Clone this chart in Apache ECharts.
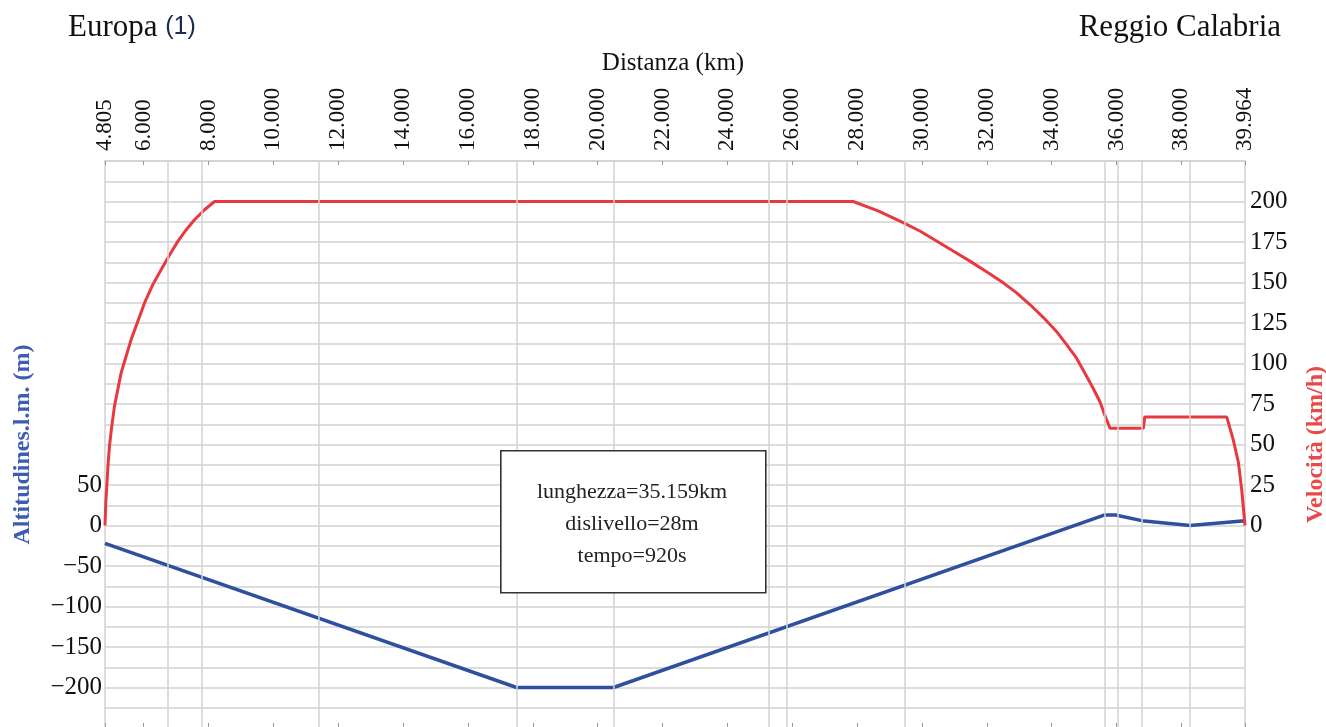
<!DOCTYPE html>
<html>
<head>
<meta charset="utf-8">
<script src="https://cdn.jsdelivr.net/npm/echarts@6/dist/echarts.min.js"></script>
<style>
html,body{margin:0;padding:0;background:#fff;}
#chart{width:1326px;height:727px;}
</style>
</head>
<body>
<div id="chart"></div>
<script>
// ---- data ----
const xTickValues = [4.805, 6, 8, 10, 12, 14, 16, 18, 20, 22, 24, 26, 28, 30, 32, 34, 36, 38, 39.964];
const vGridKm = [6.733, 7.78, 11.39, 17.50, 20.49, 25.28, 25.83, 29.47, 35.64, 36.04, 36.78, 38.27];

const velKm  = [4.805, 4.830, 4.873, 4.904, 4.944, 5.015, 5.098, 5.200, 5.305, 5.459, 5.613, 5.817,
                6.024, 6.280, 6.539, 6.795, 7.051, 7.310, 7.566, 7.875, 8.184,
                27.878, 28.649, 29.42, 29.936, 30.45, 30.963, 31.48, 31.994, 32.51, 32.920, 33.33,
                33.741, 34.15, 34.462, 34.77, 35.027, 35.28, 35.490, 35.64, 35.80,
                36.83, 36.87, 39.40, 39.60, 39.76, 39.86, 39.964];
const velKmh = [0, 14.4, 28.7, 39, 49.2, 61.5, 73.8, 84, 94.4, 104.6, 114.9, 126,
                137.4, 148.7, 158, 167, 175.4, 182.6, 188.7, 194.9, 200,
                200, 194.2, 187, 181.8, 175.6, 169.4, 163.2, 156.6, 149.8, 143.6, 136.4,
                128.5, 119.8, 111.6, 103.3, 94, 84.7, 76.4, 68.2, 60,
                60, 67, 67, 53, 39, 22.6, 0];

const altKm = [4.805, 17.50, 20.49, 35.64, 35.97, 36.78, 38.27, 39.964];
const altM  = [-22, -200, -200, 13, 13, 6, 0, 6];

const infoLines = ['lunghezza=35.159km', 'dislivello=28m', 'tempo=920s'];

// ---- chart ----
const SERIF = '"Liberation Serif", "DejaVu Serif", serif';
const GRID_COLOR = '#d2d2d2';
const chart = echarts.init(document.getElementById('chart'), null, {renderer: 'canvas'});

const zip = (a, b) => a.map((v, i) => [v, b[i]]);
const infoText = (t, y) => ({type: 'text', z: 101, position: [632, y],
  style: {text: t, fontFamily: SERIF, fontSize: 22, fill: '#222', align: 'center', verticalAlign: 'middle'}});

chart.setOption({
  animation: false,
  backgroundColor: '#ffffff',
  title: [
    {text: 'Europa {b|(1)}', left: 63, top: 7,
     textStyle: {fontFamily: SERIF, fontSize: 31, fontWeight: 'normal', color: '#111',
       rich: {b: {fontFamily: '"Liberation Sans", sans-serif', fontSize: 25, color: '#1c2c50'}}}},
    {text: 'Reggio Calabria', right: 40, top: 7,
     textStyle: {fontFamily: SERIF, fontSize: 31, fontWeight: 'normal', color: '#111'}},
    {text: 'Distanza (km)', left: 668, top: 46, textAlign: 'center',
     textStyle: {fontFamily: SERIF, fontSize: 25, fontWeight: 'normal', color: '#111'}}
  ],
  grid: {left: 105, right: 81, top: 161, bottom: -1, containLabel: false, outerBoundsMode: 'none'},
  xAxis: [
    {
      type: 'value', position: 'top', min: 4.805, max: 39.964,
      axisLine: {show: true, onZero: false, lineStyle: {color: GRID_COLOR, width: 1.5}},
      axisTick: {show: true, inside: true, length: 4, customValues: xTickValues,
                 lineStyle: {color: '#999'}},
      axisLabel: {show: true, customValues: xTickValues, rotate: -90, margin: 10,
                  fontFamily: SERIF, fontSize: 23, color: '#111',
                  formatter: v => Number(v).toFixed(3)},
      splitLine: {show: false}
    },
    {
      type: 'value', position: 'bottom', min: 4.805, max: 39.964,
      axisLine: {show: false, onZero: false},
      axisTick: {show: true, inside: true, length: 5, customValues: xTickValues,
                 lineStyle: {color: '#999'}},
      axisLabel: {show: false},
      splitLine: {show: false}
    }
  ],
  yAxis: [
    {
      type: 'value', position: 'left', min: -250, max: 450, interval: 25,
      name: 'Altitudines.l.m. (m)', nameLocation: 'middle', nameGap: 70, nameRotate: 90,
      nameTextStyle: {fontFamily: SERIF, fontSize: 24, fontWeight: 'bold', color: '#3d5db5'},
      axisLine: {show: true, onZero: false, lineStyle: {color: GRID_COLOR, width: 1.5}},
      axisTick: {show: false},
      axisLabel: {
        fontFamily: SERIF, fontSize: 25, color: '#111', margin: 3,
        formatter: v => (v >= -200 && v <= 50 && v % 50 === 0) ? (v < 0 ? '\u2212' + Math.abs(v) : String(v)) : ''
      },
      splitLine: {show: true, lineStyle: {color: GRID_COLOR, width: 1.5}}
    },
    {
      type: 'value', position: 'right', min: -125, max: 225, interval: 25,
      name: 'Velocità (km/h)', nameLocation: 'middle', nameGap: 59, nameRotate: 90,
      nameTextStyle: {fontFamily: SERIF, fontSize: 24, fontWeight: 'bold', color: '#e84a4a'},
      axisLine: {show: true, onZero: false, lineStyle: {color: GRID_COLOR, width: 1.5}},
      axisTick: {show: false},
      axisLabel: {
        fontFamily: SERIF, fontSize: 25, color: '#111', margin: 5,
        formatter: v => (v >= 0 && v <= 200) ? String(v) : ''
      },
      splitLine: {show: false}
    }
  ],
  graphic: [
    {type: 'rect', left: 500, top: 450, z: 100, shape: {width: 265, height: 142},
     style: {fill: '#ffffff', stroke: '#333', lineWidth: 1.6}},
    infoText(infoLines[0], 492),
    infoText(infoLines[1], 524),
    infoText(infoLines[2], 556)
  ],
  series: [
    {
      name: 'grid-v', type: 'line', xAxisIndex: 0, yAxisIndex: 0, z: 1,
      data: [], silent: true,
      markLine: {
        silent: true, symbol: ['none', 'none'], label: {show: false},
        lineStyle: {color: GRID_COLOR, width: 1.5, type: 'solid'},
        data: vGridKm.map(v => ({xAxis: v}))
      }
    },
    {
      name: 'Altitudine', type: 'line', xAxisIndex: 0, yAxisIndex: 0, z: 3,
      data: zip(altKm, altM), showSymbol: false, symbol: 'none',
      lineStyle: {color: '#2f4f9f', width: 3.5}
    },
    {
      name: 'Velocità', type: 'line', xAxisIndex: 0, yAxisIndex: 1, z: 3,
      data: zip(velKm, velKmh), showSymbol: false, symbol: 'none', smooth: false,
      lineStyle: {color: '#e8393f', width: 3}
    }
  ]
});
</script>
</body>
</html>
